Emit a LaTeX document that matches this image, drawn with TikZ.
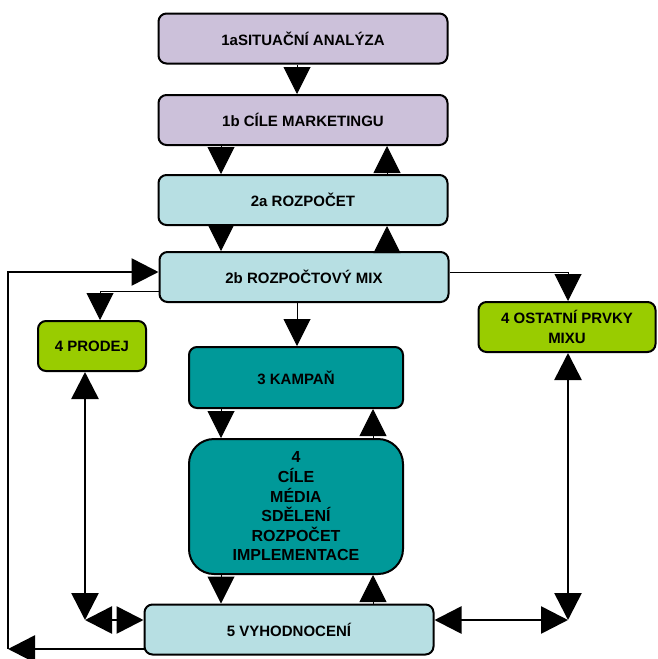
\documentclass[tikz,border=0pt]{standalone}
\usepackage{fontspec}
\setmainfont{Liberation Sans}
\usetikzlibrary{arrows.meta}

\definecolor{boxlila}{HTML}{CCC1DA}
\definecolor{boxcyan}{HTML}{B7DFE3}
\definecolor{boxgreen}{HTML}{99CC00}
\definecolor{boxteal}{HTML}{009999}

\begin{document}
\begin{tikzpicture}[x=1pt,y=-1pt,
    >={Triangle[width=27pt,length=27pt]},
    box/.style={draw=black, line width=2pt, rounded corners=8pt,
        minimum width=289pt, minimum height=50pt, inner sep=0pt,
        align=center, font=\fontsize{15}{19.5}\selectfont\bfseries},
    link/.style={line width=1pt},
    loopline/.style={line width=2.6pt}]

    \useasboundingbox (0,0) rectangle (658,659);

    % --- Boxes ---
    \node[box, fill=boxlila] (sit) at (303,38.5) {1aSITUAČNÍ ANALÝZA};
    \node[box, fill=boxlila] (cile) at (303,120) {1b CÍLE MARKETINGU};
    \node[box, fill=boxcyan] (rozp) at (303,200) {2a ROZPOČET};
    \node[box, fill=boxcyan] (mix) at (304,277) {2b ROZPOČTOVÝ MIX};
    \node[box, fill=boxgreen, minimum width=108pt] (prodej) at (92,346) {4 PRODEJ};
    \node[box, fill=boxgreen, minimum width=177pt] (ostatni) at (567,327) {4 OSTATNÍ PRVKY\\MIXU};
    \node[box, fill=boxteal, minimum width=214pt, minimum height=61pt] (kampan) at (296,377.5) {3 KAMPAŇ};
    \node[box, fill=boxteal, minimum width=214pt, minimum height=135pt, rounded corners=25pt,
        font=\fontsize{16}{19.6}\selectfont\bfseries] (media)
        at (296,506.5) {4\\CÍLE\\MÉDIA\\SDĚLENÍ\\ROZPOČET\\IMPLEMENTACE};
    \node[box, fill=boxcyan] (vyhod) at (289,629.5) {5 VYHODNOCENÍ};

    % --- Columns and rows of the connectors ---
    \coordinate (cMid) at (297,0);
    \coordinate (cDown) at (221,0);
    \coordinate (cUp) at (387,0);
    \coordinate (cUpLow) at (373,0);
    \coordinate (cProdej) at (85,0);
    \coordinate (cProdIn) at (100,0);
    \coordinate (cOst) at (568,0);
    \coordinate (cFar) at (8,0);
    \coordinate (rLoop) at (0,272);
    \coordinate (rProd) at (0,291);
    \coordinate (rEval) at (0,620);
    \coordinate (rBack) at (0,649);

    % --- Main column ---
    \draw[link,->] (sit.south -| cMid) -- (cile.north -| cMid);
    \draw[link,->] (cile.south -| cDown) -- (rozp.north -| cDown);
    \draw[link,->] (rozp.north -| cUp) -- (cile.south -| cUp);
    \draw[link,->] (rozp.south -| cDown) -- (mix.north -| cDown);
    \draw[link,->] (mix.north -| cUp) -- (rozp.south -| cUp);
    \draw[link,->] (mix.south -| cMid) -- (kampan.north -| cMid);
    \draw[link,->] (kampan.south -| cDown) -- (media.north -| cDown);
    \draw[link,->] (media.north -| cUpLow) -- (kampan.south -| cUpLow);
    \draw[link,->] (media.south -| cDown) -- (vyhod.north -| cDown);
    \draw[link,->] (vyhod.north -| cUpLow) -- (media.south -| cUpLow);

    % --- Side branches ---
    \draw[link,->] (mix.west |- rProd) -| (prodej.north -| cProdIn);
    \draw[link,->] (mix.east |- rLoop) -| (ostatni.north -| cOst);

    \draw[loopline,<->] (prodej.south -| cProdej) -- (cProdej |- rEval);
    \draw[loopline,<->] (cProdej |- rEval) -- (vyhod.west |- rEval);
    \draw[loopline,<->] (ostatni.south -| cOst) -- (cOst |- rEval);
    \draw[loopline,<->] (vyhod.east |- rEval) -- (cOst |- rEval);

    % --- Feedback loop ---
    \draw[loopline,->] (vyhod.west |- rBack) -- (cFar |- rBack);
    \draw[loopline,->] (cFar |- rBack) |- (mix.west |- rLoop);

\end{tikzpicture}
\end{document}
